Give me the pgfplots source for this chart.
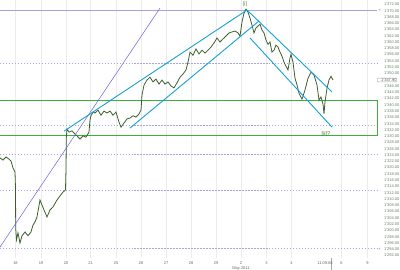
\documentclass[border=0pt]{standalone}
\usepackage{pgfplots}
\pgfplotsset{compat=1.18}
\usepackage{pgfplotstable}
\usepackage{fontspec}
\setmainfont{Liberation Sans}
\definecolor{pricec}{RGB}{60,95,45}
\definecolor{chan}{RGB}{20,160,215}
\definecolor{purp}{RGB}{110,95,220}
\definecolor{fib}{RGB}{165,165,225}
\definecolor{boxg}{RGB}{60,175,60}
\definecolor{lblc}{RGB}{95,130,95}
\definecolor{annc}{RGB}{70,120,40}
\pgfplotstableread{
x v
0 1323.1
3 1322.4
6 1323.4
9 1322.7
11 1322.1
13 1319.9
15 1318.6
15.5 1313.5
15.7 1300.8
16.5 1297.0
18 1299.2
20 1296.0
22 1298.3
25 1299.5
28 1298.3
31 1299.5
33 1301.7
35 1302.7
37 1304.3
40 1309.7
42 1308.1
44 1306.5
47 1304.3
50 1306.5
53 1307.5
57 1309.7
60 1311.0
63 1312.2
65.5 1312.9
66 1319.6
66.3 1329.5
67 1332.3
69 1331.3
72 1331.7
75 1330.7
77 1330.1
80 1329.1
83 1330.1
86 1329.7
89 1331.3
90 1335.2
91 1336.5
93 1337.7
95 1337.4
98 1338.3
101 1336.7
104 1338.0
107 1337.4
110 1338.0
113 1336.7
116 1337.7
119 1334.5
121 1332.9
124 1334.2
127 1335.5
130 1335.8
133 1336.5
136 1336.1
139 1337.1
141 1338.3
142 1343.1
144 1346.3
147 1347.9
150 1348.8
153 1347.3
156 1348.2
159 1346.6
162 1347.9
165 1346.6
168 1347.3
171 1346.0
174 1345.4
177 1347.0
180 1348.8
183 1349.8
186 1351.1
188 1353.6
190 1356.8
193 1355.8
196 1357.8
199 1356.2
202 1357.4
205 1356.5
208 1357.4
211 1358.4
214 1359.7
217 1361.3
220 1360.0
223 1361.0
226 1361.9
229 1362.9
232 1363.2
235 1363.5
238 1362.9
240 1361.9
242 1366.4
244 1369.2
246 1370.5
248 1369.5
250 1367.6
252 1365.4
254 1362.9
256 1364.5
258 1365.1
260 1365.7
262 1363.8
264 1362.9
266 1360.6
268 1359.3
270 1360.0
272 1356.8
274 1357.4
276 1359.0
278 1358.4
280 1356.8
282 1355.5
284 1353.6
286 1352.3
288 1351.1
290 1354.9
291 1356.1
293 1353.6
295 1348.5
297 1346.3
299 1343.7
302 1341.8
305 1344.7
308 1348.5
311 1350.4
314 1349.5
317 1346.3
319 1341.5
321 1342.5
323 1340.2
324 1337.1
325 1340.9
327 1345.3
329 1347.9
331 1349.1
333 1347.9
}\price
\begin{document}
\begin{tikzpicture}
\begin{axis}[
  at={(0,0)}, anchor=south west,
  scale only axis, width=377bp, height=258bp,
  xmin=0, xmax=377, ymin=1291.2, ymax=1373.37,
  axis line style={draw=none},
  major tick length=0pt,
  xtick={15.5,41,66,90.5,116,141,166,191,216,241,266.5,291.5,341.5,367.5},
  xticklabels={18,19,20,21,25,26,27,28,29,2,3,4,6,9},
  xmajorgrids, grid style={gray!15, line width=0.4pt},
  ytick={1292,1294,...,1346,1350,1352,...,1372},
  yticklabel pos=right,
  ymajorgrids=false,
  /pgf/number format/.cd, fixed, fixed zerofill, precision=2, 1000 sep={'}, assume math mode=true,
  /pgfplots/.cd,
  yticklabel style={font=\fontsize{4}{4.5}\selectfont, text=lblc, anchor=west, xshift=3.5bp},
  xticklabel style={font=\fontsize{4}{4.5}\selectfont, text=gray!80!black, yshift=-0.5bp},
  clip=false,
]
% fib / horizontal levels
\addplot[fib, line width=0.6pt] coordinates {(0,1370) (377,1370)};
\addplot[fib, dash pattern=on 1.5pt off 1.5pt, line width=0.5pt] coordinates {(0,1353.3) (377,1353.3)};
\addplot[fib, dash pattern=on 1.5pt off 1.5pt, line width=0.5pt] coordinates {(0,1333.6) (377,1333.6)};
\addplot[fib, dash pattern=on 1.5pt off 1.5pt, line width=0.5pt] coordinates {(0,1324.3) (377,1324.3)};
\addplot[fib, dash pattern=on 1.5pt off 1.5pt, line width=0.5pt] coordinates {(0,1312.9) (377,1312.9)};
\addplot[fib, dash pattern=on 1.5pt off 1.5pt, line width=0.5pt] coordinates {(0,1294.4) (377,1294.4)};
% green zone
\addplot[boxg, line width=0.9pt] coordinates {(0,1341.5) (377,1341.5) (377,1330.2) (0,1330.2)};
% price
\addplot[pricec, line width=0.8pt] table[x=x,y=v] {\price};
% purple trend line
\addplot[purp, line width=0.5pt] coordinates {(0,1294.7) (160,1370.8)};
% channels
\addplot[chan, line width=0.9pt] coordinates {(64,1331.6) (247,1370.2)};
\addplot[chan, line width=0.9pt] coordinates {(130,1332.6) (259,1366.7)};
\addplot[chan, line width=0.9pt] coordinates {(247,1370.2) (332,1344.1)};
\addplot[chan, line width=0.9pt] coordinates {(250,1361.3) (332,1332.9)};
% annotations
\node[font=\fontsize{5}{5}\selectfont, text=annc, inner sep=0.3pt] at (axis cs:245,1371.9) {[i]};
\node[font=\fontsize{5.5}{5.5}\selectfont, text=annc, inner sep=0.3pt] at (axis cs:326,1330.8) {[ii]?};
% current price box and markers
\node[draw=gray!70, rounded corners=0.8pt, font=\fontsize{4}{4.5}\selectfont, text=gray!70!black, inner sep=0.5pt, anchor=west] at (axis cs:377,1347.9) {\hspace{3.5bp}1'347.90};
\node[font=\fontsize{4}{4.5}\selectfont, text=lblc, inner sep=0pt, anchor=west] at ([xshift=1.5bp]axis cs:377,1370) {<};
\node[font=\fontsize{4}{4.5}\selectfont, text=lblc, inner sep=0pt, anchor=west] at ([xshift=1.5bp]axis cs:377,1294) {<};
% time labels
\draw[gray!70, line width=0.4pt] (axis cs:331,1291.2) -- ++(0,1.5bp);
\node[font=\fontsize{4}{4.5}\selectfont, text=gray!80!black] at ([yshift=-5bp]axis cs:325,1291.2) {11:09:08};
\node[font=\fontsize{4}{4.5}\selectfont, text=gray!80!black] at ([yshift=-10bp]axis cs:241,1291.2) {May 2011};
\end{axis}
\pgfresetboundingbox
\path[use as bounding box] (0,-12bp) rectangle (400bp,258bp);
\end{tikzpicture}
\end{document}
